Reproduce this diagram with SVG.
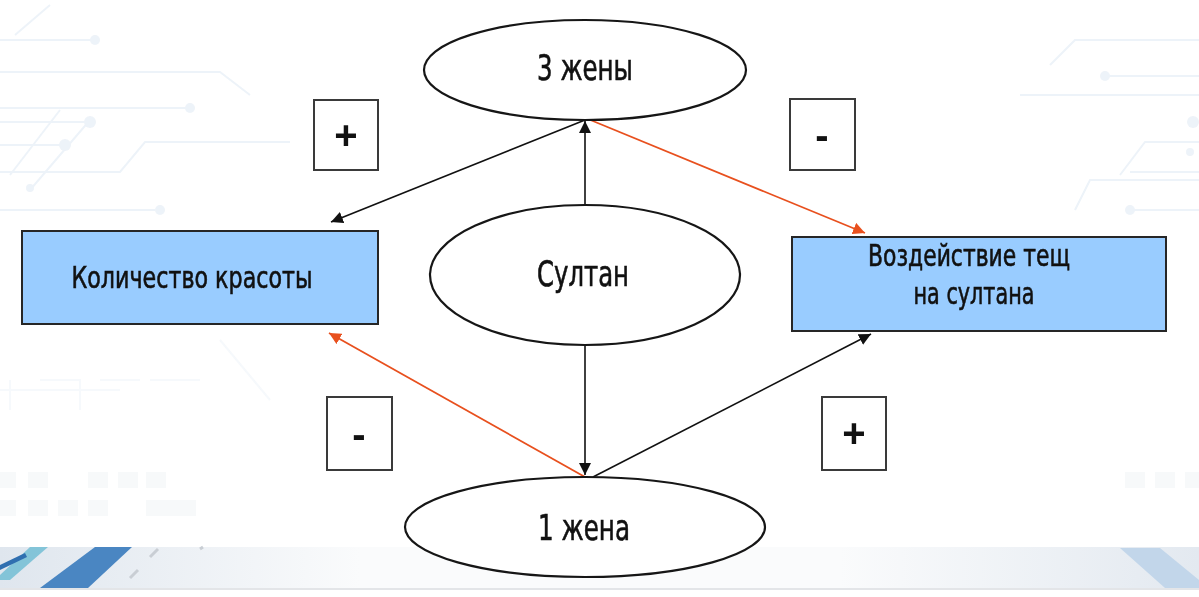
<svg xmlns="http://www.w3.org/2000/svg" width="1199" height="597" viewBox="0 0 1199 597">
<defs>
<style>
.ell{fill:#ffffff;stroke:#161616;stroke-width:2.2}
.rect{fill:#99CCFF;stroke:#262626;stroke-width:2}
.sign{fill:#ffffff;stroke:#3a3a3a;stroke-width:2}
.lbl{font-family:"Liberation Sans Narrow","DejaVu Sans Condensed","Liberation Sans",sans-serif;fill:#111;stroke:#111;stroke-width:0.6;text-anchor:middle}
.big{font-size:36px}
.mid{font-size:31px}
.sg{font-family:"Liberation Sans","Arial",sans-serif;font-size:40px;font-weight:bold;fill:#111;text-anchor:middle}
.blk{stroke:#111;stroke-width:1.6;fill:none}
.red{stroke:#E8501E;stroke-width:1.8;fill:none}
.circ{stroke:#e6eef6;stroke-width:2;fill:none}
.dot{fill:#e6eef6}
</style>
<marker id="ab" viewBox="0 0 10 10" refX="10" refY="5" markerWidth="12" markerHeight="12" markerUnits="userSpaceOnUse" orient="auto">
<path d="M0,0 L10,5 L0,10 z" fill="#111"/>
</marker>
<marker id="ar" viewBox="0 0 10 10" refX="10" refY="5" markerWidth="12" markerHeight="12" markerUnits="userSpaceOnUse" orient="auto">
<path d="M0,0 L10,5 L0,10 z" fill="#E8501E"/>
</marker>
<linearGradient id="band" x1="0" y1="0" x2="1" y2="0">
<stop offset="0" stop-color="#dfe6ee"/>
<stop offset="0.3" stop-color="#fafbfc"/>
<stop offset="0.7" stop-color="#fafbfc"/>
<stop offset="1" stop-color="#e3e9f0"/>
</linearGradient>
</defs>
<rect x="0" y="0" width="1199" height="597" fill="#ffffff"/>
<g id="background" opacity="0.7">
<path class="circ" d="M0,40 L95,40 M0,72 L220,72 L250,95 M0,108 L190,108 M0,122 L90,122 M0,145 L65,145 M0,172 L120,172 L145,142 L290,142 M0,210 L155,210 M15,35 L50,5 M10,175 L60,110 M30,190 L90,120"/>
<circle class="dot" cx="95" cy="40" r="5"/>
<circle class="dot" cx="190" cy="108" r="5"/>
<circle class="dot" cx="90" cy="122" r="6"/>
<circle class="dot" cx="65" cy="145" r="6"/>
<circle class="dot" cx="160" cy="210" r="5"/>
<circle class="dot" cx="30" cy="188" r="4"/>
<path class="circ" d="M1199,40 L1075,40 L1050,65 M1199,76 L1105,76 M1199,95 L1020,95 M1199,142 L1145,142 L1120,175 M1199,172 L1130,172 M1199,180 L1090,180 L1075,210 M1199,210 L1130,210"/>
<circle class="dot" cx="1105" cy="76" r="5"/>
<circle class="dot" cx="1193" cy="122" r="6"/>
<circle class="dot" cx="1190" cy="152" r="4"/>
<circle class="dot" cx="1130" cy="210" r="5"/>
<path class="circ" d="M0,390 L120,390 M10,380 L10,410 M40,380 L80,380 L80,410 M100,380 L140,380 M150,380 L200,380 M220,340 L270,400" opacity="0.5"/>
<g fill="#f4f6f8">
<rect x="0" y="472" width="16" height="16"/><rect x="28" y="472" width="20" height="16"/><rect x="88" y="472" width="20" height="16"/><rect x="118" y="472" width="20" height="16"/><rect x="146" y="472" width="20" height="16"/>
<rect x="0" y="500" width="16" height="16"/><rect x="28" y="500" width="20" height="16"/><rect x="58" y="500" width="20" height="16"/><rect x="88" y="500" width="20" height="16"/><rect x="146" y="500" width="50" height="16"/>
<rect x="1125" y="472" width="20" height="16"/><rect x="1155" y="472" width="20" height="16"/><rect x="1185" y="472" width="14" height="16"/>
</g>
</g>
<g id="footer-band">
<rect x="0" y="547" width="1199" height="41" fill="url(#band)"/>
<rect x="0" y="588" width="1199" height="2" fill="#e3e5e8"/>
<polygon points="95,547 132,547 88,588 40,588" fill="#4a86c2"/>
<polygon points="30,547 48,547 10,580 0,580 0,575" fill="#5bb5cf" opacity="0.7"/>
<polygon points="0,565 25,553 27,557 0,570" fill="#2f6fb0"/>
<path d="M150,557 L158,549 M130,578 L138,570 M200,549 L203,547" stroke="#c9ced4" stroke-width="3"/>
<polygon points="1120,548 1160,548 1199,580 1199,588 1165,588" fill="#c2d6ea"/>
</g>
<g id="connectors">
<line class="blk" x1="585" y1="205" x2="585" y2="121" marker-end="url(#ab)"/>
<line class="blk" x1="585" y1="120" x2="331" y2="222" marker-end="url(#ab)"/>
<line class="red" x1="588" y1="119" x2="865" y2="233" marker-end="url(#ar)"/>
<line class="blk" x1="585" y1="345" x2="585" y2="475" marker-end="url(#ab)"/>
<line class="red" x1="585" y1="477" x2="329" y2="333" marker-end="url(#ar)"/>
<line class="blk" x1="593" y1="477" x2="871" y2="334" marker-end="url(#ab)"/>
</g>
<g id="node-3wives">
<ellipse class="ell" cx="585" cy="70" rx="161" ry="50"/>
<text class="lbl big" x="585" y="80" textLength="96" lengthAdjust="spacingAndGlyphs">3 жены</text>
</g>
<g id="node-sultan">
<ellipse class="ell" cx="585" cy="275" rx="155" ry="70"/>
<text class="lbl big" x="583" y="286" textLength="92" lengthAdjust="spacingAndGlyphs">Султан</text>
</g>
<g id="node-1wife">
<ellipse class="ell" cx="585" cy="527" rx="180" ry="50"/>
<text class="lbl big" x="584" y="540" textLength="92" lengthAdjust="spacingAndGlyphs">1 жена</text>
</g>
<g id="node-beauty">
<rect class="rect" x="22" y="231" width="356" height="93"/>
<text class="lbl mid" x="192" y="288" textLength="241" lengthAdjust="spacingAndGlyphs">Количество красоты</text>
</g>
<g id="node-inlaws">
<rect class="rect" x="792" y="237" width="374" height="94"/>
<text class="lbl mid" x="969" y="266" textLength="202" lengthAdjust="spacingAndGlyphs">Воздействие тещ</text>
<text class="lbl mid" x="974" y="304" textLength="121" lengthAdjust="spacingAndGlyphs">на султана</text>
</g>
<g id="sign-plus-top">
<rect class="sign" x="314" y="100" width="64" height="70"/>
<text class="sg" x="346" y="149">+</text>
</g>
<g id="sign-minus-top">
<rect class="sign" x="790" y="99" width="65" height="71"/>
<text class="sg" x="822" y="149">-</text>
</g>
<g id="sign-minus-bottom">
<rect class="sign" x="327" y="397" width="65" height="73"/>
<text class="sg" x="359" y="448">-</text>
</g>
<g id="sign-plus-bottom">
<rect class="sign" x="822" y="397" width="64" height="73"/>
<text class="sg" x="854" y="447">+</text>
</g>
</svg>
